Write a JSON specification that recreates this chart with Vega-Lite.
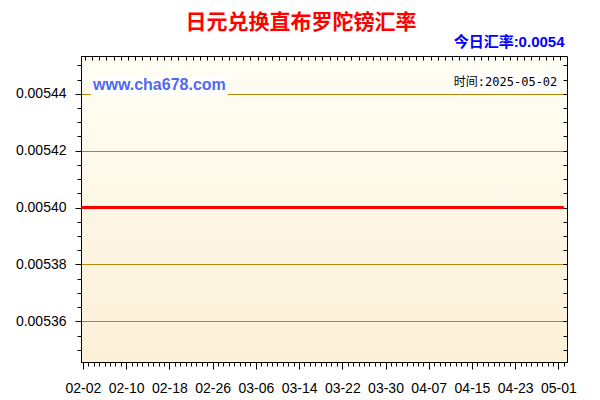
{
  "$schema": "https://vega.github.io/schema/vega-lite/v6.json",
  "width": 486,
  "height": 306,
  "autosize": "none",
  "padding": {"left": 81, "top": 56, "right": 33, "bottom": 38},
  "background": "#FFFFFF",
  "title": {
    "text": "日元兑换直布罗陀镑汇率",
    "color": "#FF0000",
    "font": "Noto Sans CJK SC",
    "fontSize": 21,
    "fontWeight": "bold",
    "anchor": "middle",
    "dx": -23,
    "offset": 2
  },
  "data": {
    "values": [
      {"date": "2025-02-01", "rate": 0.0054}, {"date": "2025-02-02", "rate": 0.0054},
      {"date": "2025-02-03", "rate": 0.0054}, {"date": "2025-02-04", "rate": 0.0054},
      {"date": "2025-02-05", "rate": 0.0054}, {"date": "2025-02-06", "rate": 0.0054},
      {"date": "2025-02-07", "rate": 0.0054}, {"date": "2025-02-08", "rate": 0.0054},
      {"date": "2025-02-09", "rate": 0.0054}, {"date": "2025-02-10", "rate": 0.0054},
      {"date": "2025-02-11", "rate": 0.0054}, {"date": "2025-02-12", "rate": 0.0054},
      {"date": "2025-02-13", "rate": 0.0054}, {"date": "2025-02-14", "rate": 0.0054},
      {"date": "2025-02-15", "rate": 0.0054}, {"date": "2025-02-16", "rate": 0.0054},
      {"date": "2025-02-17", "rate": 0.0054}, {"date": "2025-02-18", "rate": 0.0054},
      {"date": "2025-02-19", "rate": 0.0054}, {"date": "2025-02-20", "rate": 0.0054},
      {"date": "2025-02-21", "rate": 0.0054}, {"date": "2025-02-22", "rate": 0.0054},
      {"date": "2025-02-23", "rate": 0.0054}, {"date": "2025-02-24", "rate": 0.0054},
      {"date": "2025-02-25", "rate": 0.0054}, {"date": "2025-02-26", "rate": 0.0054},
      {"date": "2025-02-27", "rate": 0.0054}, {"date": "2025-02-28", "rate": 0.0054},
      {"date": "2025-03-01", "rate": 0.0054}, {"date": "2025-03-02", "rate": 0.0054},
      {"date": "2025-03-03", "rate": 0.0054}, {"date": "2025-03-04", "rate": 0.0054},
      {"date": "2025-03-05", "rate": 0.0054}, {"date": "2025-03-06", "rate": 0.0054},
      {"date": "2025-03-07", "rate": 0.0054}, {"date": "2025-03-08", "rate": 0.0054},
      {"date": "2025-03-09", "rate": 0.0054}, {"date": "2025-03-10", "rate": 0.0054},
      {"date": "2025-03-11", "rate": 0.0054}, {"date": "2025-03-12", "rate": 0.0054},
      {"date": "2025-03-13", "rate": 0.0054}, {"date": "2025-03-14", "rate": 0.0054},
      {"date": "2025-03-15", "rate": 0.0054}, {"date": "2025-03-16", "rate": 0.0054},
      {"date": "2025-03-17", "rate": 0.0054}, {"date": "2025-03-18", "rate": 0.0054},
      {"date": "2025-03-19", "rate": 0.0054}, {"date": "2025-03-20", "rate": 0.0054},
      {"date": "2025-03-21", "rate": 0.0054}, {"date": "2025-03-22", "rate": 0.0054},
      {"date": "2025-03-23", "rate": 0.0054}, {"date": "2025-03-24", "rate": 0.0054},
      {"date": "2025-03-25", "rate": 0.0054}, {"date": "2025-03-26", "rate": 0.0054},
      {"date": "2025-03-27", "rate": 0.0054}, {"date": "2025-03-28", "rate": 0.0054},
      {"date": "2025-03-29", "rate": 0.0054}, {"date": "2025-03-30", "rate": 0.0054},
      {"date": "2025-03-31", "rate": 0.0054}, {"date": "2025-04-01", "rate": 0.0054},
      {"date": "2025-04-02", "rate": 0.0054}, {"date": "2025-04-03", "rate": 0.0054},
      {"date": "2025-04-04", "rate": 0.0054}, {"date": "2025-04-05", "rate": 0.0054},
      {"date": "2025-04-06", "rate": 0.0054}, {"date": "2025-04-07", "rate": 0.0054},
      {"date": "2025-04-08", "rate": 0.0054}, {"date": "2025-04-09", "rate": 0.0054},
      {"date": "2025-04-10", "rate": 0.0054}, {"date": "2025-04-11", "rate": 0.0054},
      {"date": "2025-04-12", "rate": 0.0054}, {"date": "2025-04-13", "rate": 0.0054},
      {"date": "2025-04-14", "rate": 0.0054}, {"date": "2025-04-15", "rate": 0.0054},
      {"date": "2025-04-16", "rate": 0.0054}, {"date": "2025-04-17", "rate": 0.0054},
      {"date": "2025-04-18", "rate": 0.0054}, {"date": "2025-04-19", "rate": 0.0054},
      {"date": "2025-04-20", "rate": 0.0054}, {"date": "2025-04-21", "rate": 0.0054},
      {"date": "2025-04-22", "rate": 0.0054}, {"date": "2025-04-23", "rate": 0.0054},
      {"date": "2025-04-24", "rate": 0.0054}, {"date": "2025-04-25", "rate": 0.0054},
      {"date": "2025-04-26", "rate": 0.0054}, {"date": "2025-04-27", "rate": 0.0054},
      {"date": "2025-04-28", "rate": 0.0054}, {"date": "2025-04-29", "rate": 0.0054},
      {"date": "2025-04-30", "rate": 0.0054}, {"date": "2025-05-01", "rate": 0.0054},
      {"date": "2025-05-02", "rate": 0.0054}
    ]
  },
  "layer": [
    {
      "mark": {"type": "line", "color": "#FF0000", "strokeWidth": 3, "clip": true},
      "encoding": {
        "x": {
          "field": "date",
          "type": "temporal",
          "scale": {
            "type": "utc",
            "domain": [
              {"year": 2025, "month": 2, "date": 1, "hours": 15, "minutes": 30, "utc": true},
              {"year": 2025, "month": 5, "date": 2, "hours": 14, "utc": true}
            ]
          },
          "axis": {
            "orient": "bottom",
            "title": null,
            "grid": false,
            "domainColor": "#000000",
            "tickColor": "#000000",
            "tickCount": {"interval": "day", "step": 1},
            "tickSize": {"condition": {"test": "round((datum.value - utc(2025,1,2)) / 864e5) % 8 == 0", "value": 7}, "value": 4},
            "labelExpr": "round((datum.value - utc(2025,1,2)) / 864e5) % 8 == 0 ? utcFormat(datum.value, '%m-%d') : ''",
            "labelOverlap": false,
            "labelFlush": false,
            "labelBound": false,
            "labelFont": "Liberation Sans",
            "labelFontSize": 14,
            "labelColor": "#000000",
            "labelPadding": 12
          }
        },
        "y": {
          "field": "rate",
          "type": "quantitative",
          "scale": {"domain": [0.0053457, 0.0054533], "zero": false, "nice": false},
          "axis": {
            "orient": "left",
            "title": null,
            "values": [0.00535, 0.005355, 0.00536, 0.005365, 0.00537, 0.005375, 0.00538, 0.005385, 0.00539, 0.005395, 0.0054, 0.005405, 0.00541, 0.005415, 0.00542, 0.005425, 0.00543, 0.005435, 0.00544, 0.005445, 0.00545],
            "grid": true,
            "gridColor": "#B8860B",
            "gridWidth": 1,
            "gridOpacity": {"condition": {"test": "round(datum.value * 1e6) % 20 == 0", "value": 1}, "value": 0},
            "domainColor": "#000000",
            "tickColor": "#000000",
            "tickSize": {"condition": {"test": "round(datum.value * 1e6) % 20 == 0", "value": 6}, "value": 4},
            "labelExpr": "round(datum.value * 1e6) % 20 == 0 ? format(datum.value, '.5f') : ''",
            "labelOverlap": false,
            "labelFlush": false,
            "labelBound": false,
            "labelFont": "Liberation Sans",
            "labelFontSize": 14,
            "labelColor": "#000000",
            "labelPadding": 9
          }
        }
      }
    },
    {
      "mark": {"type": "line", "strokeOpacity": 0},
      "encoding": {
        "x": {
          "field": "date",
          "type": "temporal",
          "axis": {
            "orient": "top",
            "labels": false,
            "domain": false,
            "grid": false,
            "offset": -4,
            "tickColor": "#000000",
            "tickSize": 4,
            "tickCount": {"interval": "milliseconds", "step": 115200000},
            "title": "今日汇率:0.0054",
            "titleX": 483,
            "titleAnchor": "end",
            "titleAlign": "right",
            "titleColor": "#0000FF",
            "titleFont": "Liberation Sans, Noto Sans CJK SC",
            "titleFontSize": 15,
            "titleFontWeight": "bold",
            "titlePadding": 6
          }
        },
        "y": {
          "field": "rate",
          "type": "quantitative",
          "axis": {
            "orient": "right",
            "labels": false,
            "domain": false,
            "grid": false,
            "title": null,
            "offset": -4,
            "tickColor": "#000000",
            "tickSize": 4,
            "values": [0.00535, 0.005355, 0.00536, 0.005365, 0.00537, 0.005375, 0.00538, 0.005385, 0.00539, 0.005395, 0.0054, 0.005405, 0.00541, 0.005415, 0.00542, 0.005425, 0.00543, 0.005435, 0.00544, 0.005445, 0.00545]
          }
        }
      }
    },
    {
      "data": {"values": [{}]},
      "mark": {"type": "rect", "fill": "#FFFFFF"},
      "encoding": {
        "x": {"datum": {"year": 2025, "month": 2, "date": 3, "hours": 10, "minutes": 30, "utc": true}, "axis": null},
        "x2": {"datum": {"year": 2025, "month": 2, "date": 28, "hours": 19, "utc": true}},
        "y": {"datum": 0.005446, "axis": null},
        "y2": {"datum": 0.0054396}
      }
    },
    {
      "data": {"values": [{}]},
      "mark": {"type": "text", "text": "www.cha678.com", "align": "left", "baseline": "alphabetic", "font": "Liberation Sans", "fontSize": 16, "fontWeight": "bold", "color": "#5068F0"},
      "encoding": {
        "x": {"datum": {"year": 2025, "month": 2, "date": 3, "hours": 20, "minutes": 50, "utc": true}, "axis": null},
        "y": {"datum": 0.0054415, "axis": null}
      }
    },
    {
      "data": {"values": [{}]},
      "mark": {"type": "rect", "fill": "#FFFFFF"},
      "encoding": {
        "x": {"datum": {"year": 2025, "month": 4, "date": 11, "hours": 6, "utc": true}, "axis": null},
        "x2": {"datum": {"year": 2025, "month": 5, "date": 1, "hours": 14, "minutes": 30, "utc": true}},
        "y": {"datum": 0.0054473, "axis": null},
        "y2": {"datum": 0.005441}
      }
    },
    {
      "data": {"values": [{}]},
      "mark": {"type": "text", "text": "时间:2025-05-02", "align": "right", "baseline": "alphabetic", "font": "DejaVu Sans Mono, Noto Sans CJK SC", "fontSize": 12, "color": "#000000"},
      "encoding": {
        "x": {"datum": {"year": 2025, "month": 4, "date": 30, "hours": 19, "utc": true}, "axis": null},
        "y": {"datum": 0.0054428, "axis": null}
      }
    }
  ],
  "resolve": {"axis": {"x": "independent", "y": "independent"}},
  "config": {
    "view": {
      "stroke": "#000000",
      "strokeWidth": 1,
      "fill": {
        "gradient": "linear",
        "x1": 0, "y1": 0, "x2": 0, "y2": 1,
        "stops": [
          {"offset": 0, "color": "#FFFEF5"},
          {"offset": 1, "color": "#FCF0D7"}
        ]
      }
    },
    "axis": {"domainWidth": 1, "tickWidth": 1}
  }
}
